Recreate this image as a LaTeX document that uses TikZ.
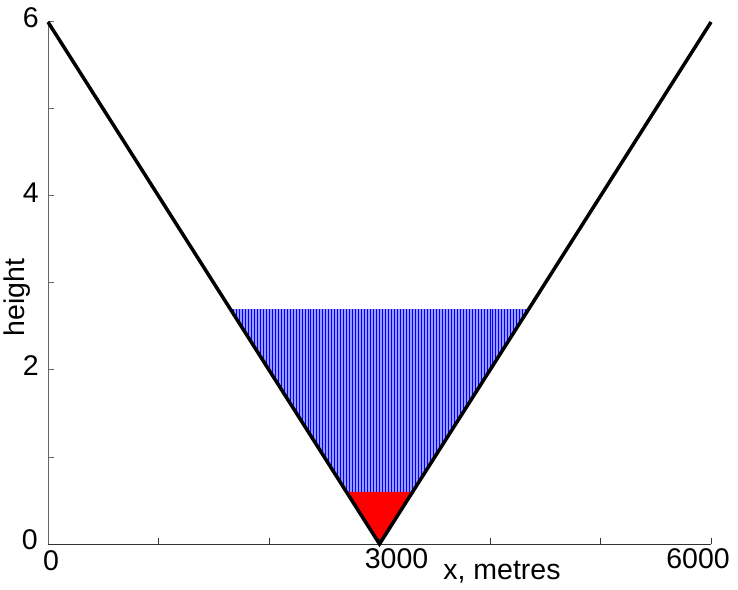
\documentclass[tikz,border=0pt]{standalone}
\usepackage{fontspec}
\setmainfont{Liberation Sans}
\usetikzlibrary{positioning}

\begin{document}
\begin{tikzpicture}[x=0.1105pt, y=87pt, font=\fontsize{28.5}{34}\selectfont,
    axisline/.style={draw=black!60, line width=1pt},
    ticklabel/.style={inner sep=0pt},
    valley/.style={draw=black, line width=3.5pt, line join=miter}]
    % Fix the page size
    \useasboundingbox (0,0) ++(-48pt,-45pt) rectangle ++(738pt,589pt);

    % Define the points of the valley
    \coordinate (left top) at (0,6);
    \coordinate (bottom) at (3000,0);
    \coordinate (right top) at (6000,6);

    % Water layers
    \fill[blue!40] (1650,2.7) -- (4350,2.7) -- (3300,0.6) -- (2700,0.6) -- cycle;
    \begin{scope}
        \clip (1650,2.7) -- (4350,2.7) -- (3300,0.6) -- (2700,0.6) -- cycle;
        \foreach \i in {1650,1677,...,4350}
            \draw[blue, line width=0.8pt] (\i,0.6) -- (\i,2.7);
    \end{scope}
    \fill[red] (2700,0.6) -- (3300,0.6) -- (bottom) -- cycle;

    % Axes and ticks
    \draw[axisline] (0,0) -- (0,6);
    \draw[axisline, draw=black!80] (0,0) -- (6000,0);
    \foreach \y in {1,...,6}
        \draw[axisline] (0,\y) -- ++(6pt,0);
    \foreach \x in {1000,2000,...,6000}
        \draw[axisline, draw=black!80] (\x,0) -- ++(0,6pt);

    % Tick labels
    \node[ticklabel, anchor=east] (y0) at ([xshift=-10pt,yshift=4pt]0,0) {0};
    \node[ticklabel, anchor=east] (y2) at ([xshift=-9pt,yshift=4pt]0,2) {2};
    \node[ticklabel, anchor=east] (y4) at ([xshift=-9pt,yshift=3pt]0,4) {4};
    \node[ticklabel, anchor=east] (y6) at ([xshift=-9pt,yshift=4pt]0,6) {6};
    \node[ticklabel, anchor=north] (x0) at ([xshift=3pt,yshift=-6pt]0,0) {0};
    \node[ticklabel, anchor=north] (x3000) at ([xshift=17pt,yshift=-4pt]3000,0) {3000};
    \node[ticklabel, anchor=north] (x6000) at ([xshift=-13pt,yshift=-4pt]6000,0) {6000};

    % Axis titles
    \node[ticklabel] (xlabel) at ([xshift=454pt,yshift=-28pt]0,0) {x, metres};
    \node[ticklabel, rotate=90] (ylabel) at ([xshift=-31pt]0,2.83) {height};

    % The valley sides
    \draw[valley] (left top) -- (bottom) -- (right top);
\end{tikzpicture}
\end{document}
